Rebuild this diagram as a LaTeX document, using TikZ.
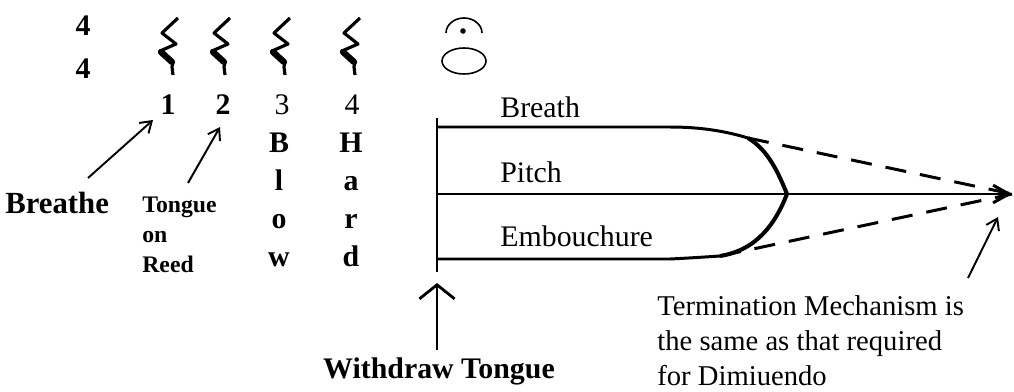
\documentclass[tikz,border=0pt]{standalone}
\usepackage{fontspec}
\setmainfont{Liberation Serif}
\usetikzlibrary{arrows.meta}

\tikzset{
  lbl/.style={inner sep=0pt,font=\fontsize{17}{20}\selectfont},
  blbl/.style={inner sep=0pt,font=\bfseries\fontsize{17}{21.6}\selectfont},
  track/.style={line width=1.7pt},
  fade/.style={line width=1.7pt,dash pattern=on 12pt off 8pt},
  pointer/.style={line width=1.1pt,-{Straight Barb[length=6pt,width=8pt]}},
  qrest/.pic={
    \draw[line width=1.8pt,line join=round] (8,18) -- (-8,33) -- (6,44) -- (-10,51) -- (3,62) -- (2,67) -- (3,75);
    \draw[line width=3.6pt,line cap=round] (-9,52) -- (2,62);
  }
}

\begin{document}
\begin{tikzpicture}[x=0.02cm,y=-0.02cm]

      \useasboundingbox (0,0) rectangle (1014,392);

      \node[blbl,anchor=base] (beatsA) at (83,35){4};
      \node[blbl,anchor=base] (beatsB) at (83,78){4};

      \pic (restA) at (170,0){qrest};
      \pic (restB) at (222,0){qrest};
      \pic (restC) at (282,0){qrest};
      \pic (restD) at (352,0){qrest};

      \draw[line width=0.9pt] (446,33) arc[start angle=180,end angle=360,x radius=18,y radius=15];
      \fill (463,31) circle[radius=2.8];
      \draw[line width=0.9pt] (464,61) ellipse[x radius=22,y radius=13];

      \node[blbl,anchor=base] (one) at (168,114){1};
      \node[blbl,anchor=base] (two) at (223,114){2};
      \node[lbl,anchor=base] (three) at (282,114){3};
      \node[lbl,anchor=base] (four) at (352,114){4};
      \node[blbl,align=center,anchor=north] (blow) at (279,133){B\\l\\o\\w};
      \node[blbl,align=center,anchor=north] (hard) at (351,133){H\\a\\r\\d};

      \node[blbl,font=\bfseries\fontsize{17.5}{20}\selectfont,anchor=base west] (breathe) at (5,213){Breathe};
      \node[blbl,font=\bfseries\fontsize{13.5}{17}\selectfont,align=left,anchor=north west] (tongue) at (142,197){Tongue\\on\\Reed};

      \coordinate (breatheFoot) at (88,178);
      \coordinate (breatheHead) at (153,120);
      \coordinate (tongueFoot) at (188,183);
      \coordinate (tongueHead) at (220,127);
      \draw[pointer] (breatheFoot) -- (breatheHead);
      \draw[pointer] (tongueFoot) -- (tongueHead);

      \node[lbl,anchor=base west] (breath) at (500,117){Breath};
      \node[lbl,anchor=base west] (pitch) at (500,182){Pitch};
      \node[lbl,anchor=base west] (emb) at (500,246){Embouchure};

      \coordinate (wallTop) at (437,118);
      \coordinate (wallBot) at (437,272);
      \coordinate (breathIn) at (437,127);
      \coordinate (pitchIn) at (437,194);
      \coordinate (embIn) at (437,259);
      \coordinate (breathOff) at (748,138);
      \coordinate (embOff) at (720,256);
      \coordinate (apex) at (787,194);
      \coordinate (goal) at (1012,194);

      \draw[track] (wallTop) -- (wallBot);
      \draw[track] (breathIn) -- (670,127) .. controls (700,127) and (725,131) .. (breathOff);
      \draw[track] (embIn) -- (670,259) .. controls (690,258) and (705,257) .. (embOff);
      \draw[track,line width=2.3pt] (breathOff) .. controls (768,150) and (778,172) .. (apex) .. controls (776,222) and (758,250) .. (embOff);
      \draw[track,-{Straight Barb[length=9pt,width=10pt]}] (pitchIn) -- (goal);
      \draw[fade] (breathOff) -- (goal);
      \draw[fade] (embOff) -- (goal);

      \node[blbl,anchor=base] (withdraw) at (439,378){Withdraw Tongue};
      \coordinate (pushFoot) at (437,350);
      \coordinate (pushTip) at (437,283);
      \draw[line width=1.6pt,-{Straight Barb[length=8pt,width=20pt]}] (pushFoot) -- (pushTip);

      \node[lbl,font=\fontsize{16.3}{19.9}\selectfont,align=left,anchor=north west] (term) at (657,295){Termination Mechanism is\\the same as that required\\for Dimiuendo};
      \coordinate (termFoot) at (968,278);
      \coordinate (termHead) at (998,217);
      \draw[pointer] (termFoot) -- (termHead);

    \end{tikzpicture}
\end{document}
